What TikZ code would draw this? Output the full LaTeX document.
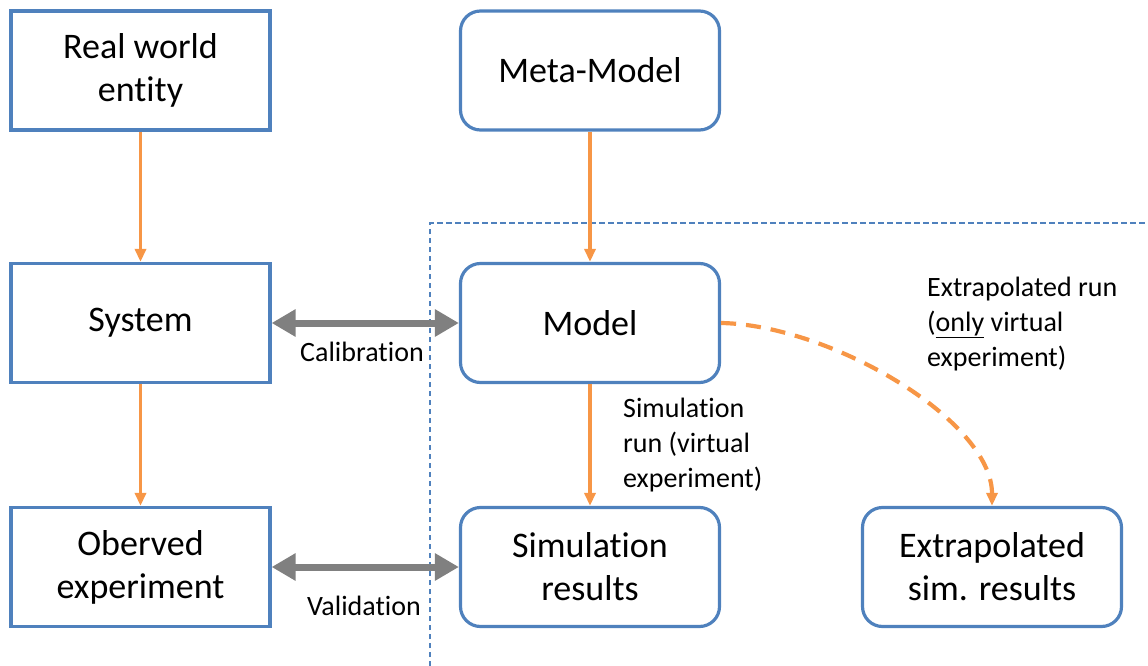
\documentclass[tikz,border=0pt]{standalone}
\usepackage{fontspec}
\setmainfont{Carlito}[Ligatures=CommonOff]
\usetikzlibrary{arrows.meta}
\definecolor{boxblue}{HTML}{4F81BD}
\definecolor{flow}{HTML}{F79646}
\definecolor{link}{HTML}{808080}
\tikzset{
  plainbox/.style={draw=boxblue, line width=3.2pt, minimum width=259pt, minimum height=119pt,
    align=center, inner sep=0pt, font=\fontsize{36}{43}\selectfont},
  roundbox/.style={plainbox, rounded corners=20pt},
  flowarrow/.style={draw=flow, line width=3.4pt, -{Triangle[length=13pt,width=11pt]}},
  linkarrow/.style={draw=link, line width=7pt, {Triangle[length=24pt,width=26pt]}-{Triangle[length=24pt,width=26pt]}},
  note/.style={font=\fontsize{28}{35}\selectfont, inner sep=0pt},
}
\begin{document}
\begin{tikzpicture}[x=1pt, y=-1pt]
  \useasboundingbox (0,0) rectangle (1148,666);
  % boundary of the virtual world
  \coordinate (vb) at (430,666);
  \coordinate (vc) at (430,223);
  \coordinate (vr) at (1148,223);
  \draw[boxblue, line width=2pt, dash pattern=on 5.5pt off 3.5pt] (vb) -- (vc) -- (vr);

  % boxes
  \node[plainbox] (real) at (140.5,70.5) {Real world\\entity};
  \node[roundbox] (meta) at (590,70.5) {Meta-Model};
  \node[plainbox] (sys) at (140.5,323) {System};
  \node[roundbox] (model) at (590,323) {Model};
  \node[plainbox] (obs) at (140.5,567) {Oberved\\experiment};
  \node[roundbox] (simres) at (590,567) {Simulation\\results};
  \node[roundbox] (extres) at (992,567) {Extrapolated\\sim. results};

  % flows
  \draw[flowarrow] (real) -- (sys);
  \draw[flowarrow] (sys) -- (obs);
  \draw[flowarrow] (meta) -- (model);
  \draw[flowarrow] (model) -- (simres);
  \draw[flowarrow, line width=4.2pt, dash pattern=on 15pt off 10pt]
    (model.east) .. controls (830,325) and (992,420) .. (extres.north);

  % comparisons
  \draw[linkarrow] (sys.east) -- (model.west);
  \draw[linkarrow] (obs.east) -- (simres.west);

  % labels
  \node[note] (cal) at (362,352) {Calibration};
  \node[note] (val) at (364,606) {Validation};
  \node[note, anchor=north west, align=left] (simrun) at (623,398) {Simulation\\run (virtual\\experiment)};
  \node[note, anchor=north west, align=left] (extrun) at (927,277) {Extrapolated run\\(\underline{only} virtual\\experiment)};
\end{tikzpicture}
\end{document}
